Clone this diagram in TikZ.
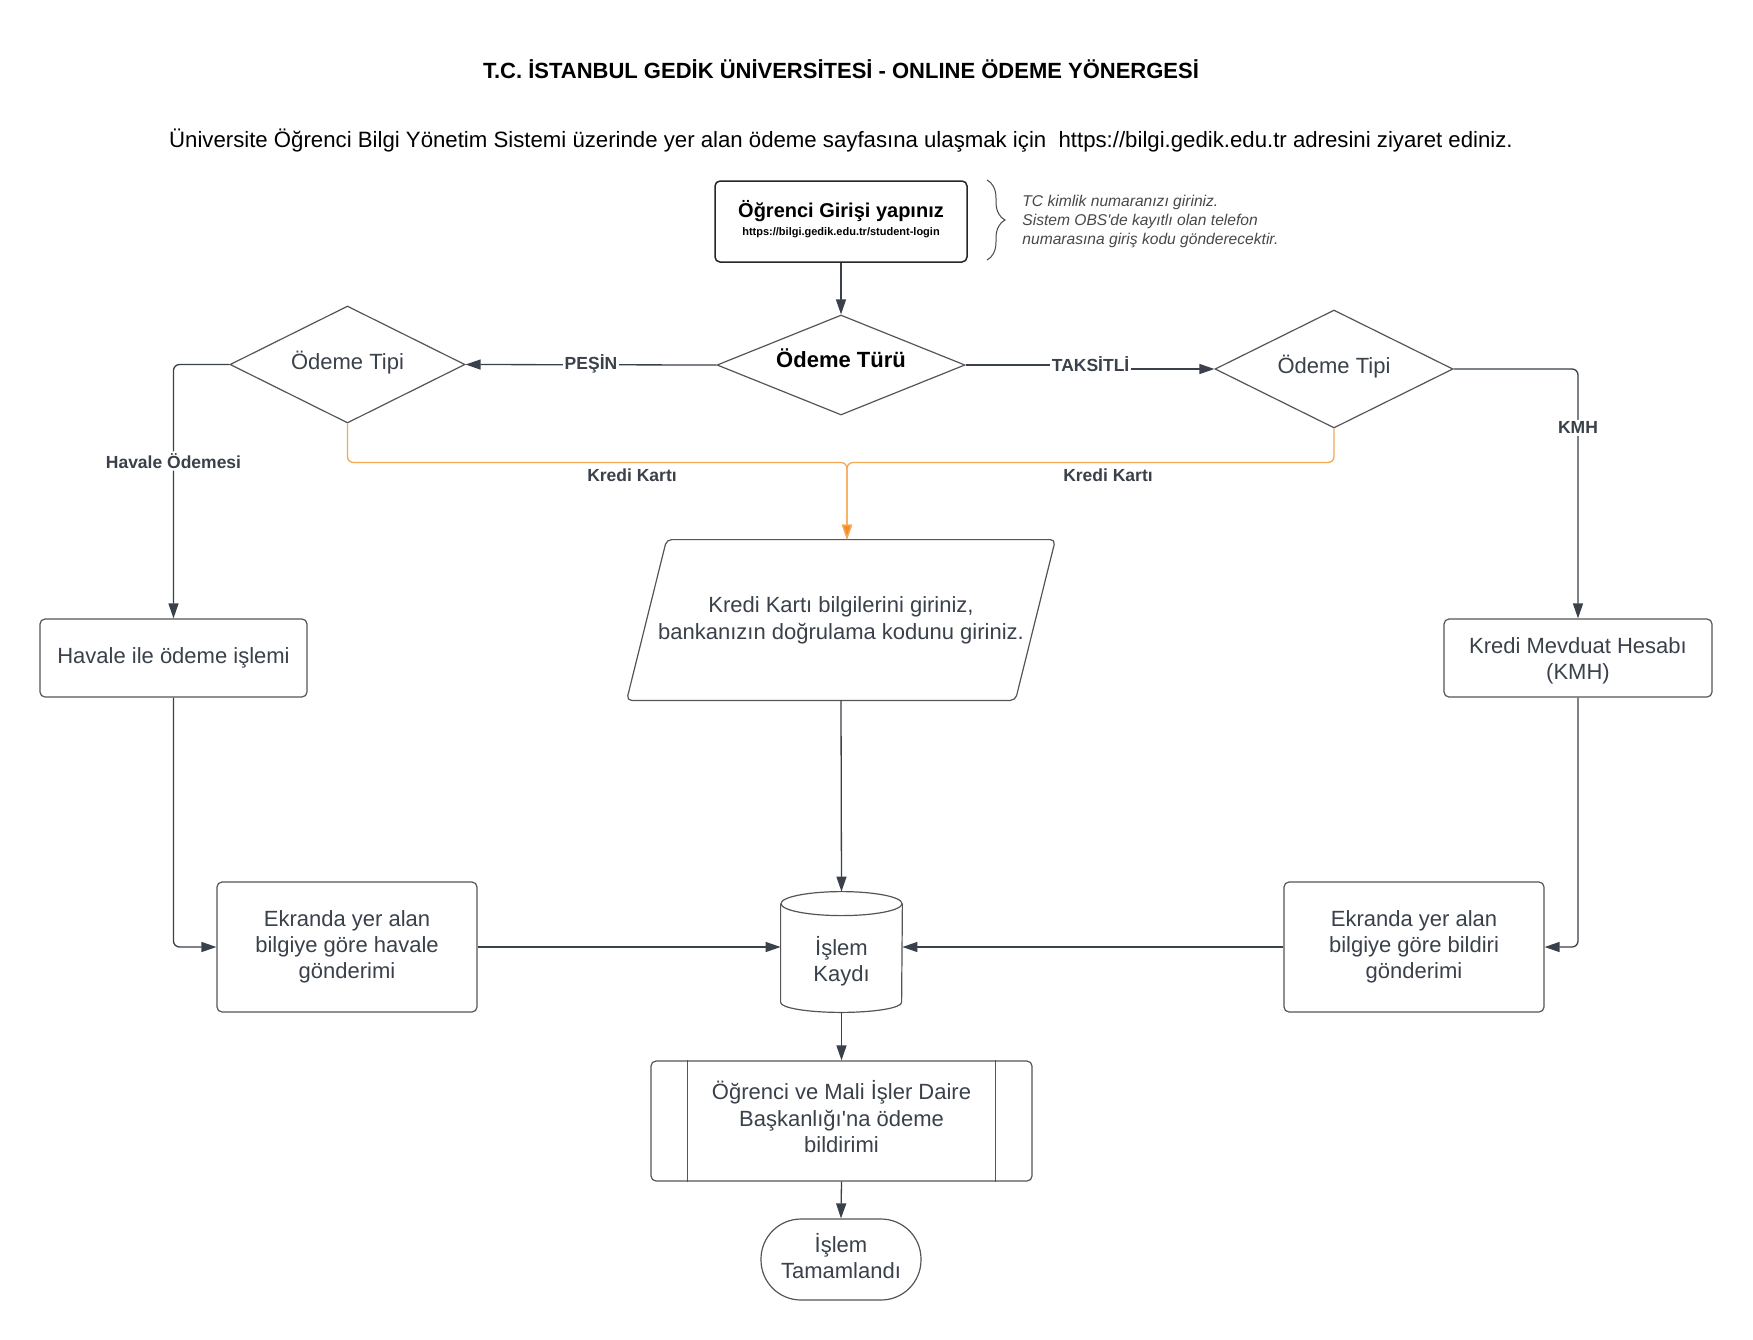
\documentclass[tikz,border=0pt]{standalone}
\usepackage{fontspec}
\setmainfont{Liberation Sans}
\usetikzlibrary{shapes.geometric,arrows.meta,calc,decorations.pathreplacing}
\definecolor{lc}{RGB}{58,65,74}
\definecolor{bc}{RGB}{85,85,85}
\definecolor{tc}{RGB}{58,65,74}
\definecolor{oc}{RGB}{245,168,84}
\definecolor{ot}{RGB}{242,140,40}
\definecolor{nc}{RGB}{72,72,72}
\begin{document}
\begin{tikzpicture}[x=0.5pt,y=-0.5pt,
  box/.style={draw=bc, line width=0.6pt, rounded corners=2.5pt, fill=white, text=tc, align=center, font=\fontsize{11}{13.1}\selectfont, inner sep=0pt},
  txt/.style={text=tc, align=center, font=\fontsize{11}{13.1}\selectfont, inner sep=0pt},
  dia/.style={draw=bc, line width=0.6pt, diamond, inner sep=0pt, text=tc, font=\fontsize{11}{13}\selectfont},
  conn/.style={draw=lc, line width=0.65pt, -{Triangle[length=7.5pt,width=5pt]}},
  lbl/.style={font=\fontsize{8.75}{10}\selectfont\bfseries, text=tc, fill=white, inner sep=1pt},
  oconn/.style={draw=oc, line width=0.65pt, rounded corners=3pt, -{Triangle[length=7.5pt,width=5pt,fill=ot]}}
]
\useasboundingbox (0,0) rectangle (1753,1340);
\fill[white] (0,0) rectangle (1753,1340);

\node[font=\fontsize{11}{13}\selectfont\bfseries] (title) at (841,69) {T.C. İSTANBUL GEDİK ÜNİVERSİTESİ - ONLINE ÖDEME YÖNERGESİ};
\node[font=\fontsize{11.1}{13}\selectfont] (intro) at (841,141) {Üniversite Öğrenci Bilgi Yönetim Sistemi üzerinde yer alan ödeme sayfasına ulaşmak için\ \ https://bilgi.gedik.edu.tr adresini ziyaret ediniz.};

% login
\node[box, draw=black!85, line width=0.75pt, minimum width=126pt, minimum height=40.5pt] (login) at (841,221.5) {};
\node[font=\fontsize{10}{12}\selectfont\bfseries, text=black, inner sep=0pt] (logint) at (841,211) {Öğrenci Girişi yapınız};
\node[font=\fontsize{5.5}{7}\selectfont\bfseries, text=black, inner sep=0pt] (loginu) at (841,233) {https://bilgi.gedik.edu.tr/student-login};

% note with brace
\draw[nc, line width=0.5pt, decorate, decoration={brace, amplitude=9pt}] (987,180) -- (987,260);
\node[anchor=west, align=left, font=\fontsize{7.8}{9.5}\selectfont\itshape, text=nc, inner sep=0pt] (note) at (1022,221) {TC kimlik numaranızı giriniz.\\Sistem OBS\textquotesingle de kayıtlı olan telefon\\numarasına giriş kodu gönderecektir.};

% diamonds
\node[dia, aspect=2.48, minimum width=124pt, minimum height=50pt, text=black, font=\fontsize{11}{13}\selectfont\bfseries] (odt) at (841,365) {\raisebox{3.3pt}[\height][\depth]{Ödeme Türü}};
\node[dia, aspect=2, minimum width=117.5pt, minimum height=58.5pt] (lt) at (347.5,364.5) {\raisebox{1.1pt}[\height][\depth]{Ödeme Tipi}};
\node[dia, aspect=2, minimum width=119pt, minimum height=59pt] (rt) at (1334,369) {\raisebox{1.1pt}[\height][\depth]{Ödeme Tipi}};

% boxes
\node[box, minimum width=133.5pt, minimum height=39pt] (hav) at (173.5,658) {Havale ile ödeme işlemi};
\node[box, minimum width=134pt, minimum height=39pt,
  label={[txt, yshift=-1.4pt]center:Kredi Mevduat Hesabı\\(KMH)}] (kmh) at (1578,658) {};

% parallelogram
\node[draw=none, minimum width=214pt, minimum height=80pt, text=tc, align=center, font=\fontsize{11}{13.4}\selectfont, inner sep=0pt] (kk) at (841,620) {Kredi Kartı bilgilerini giriniz,\\bankanızın doğrulama kodunu giriniz.};
\draw[bc, line width=0.6pt, rounded corners=2.5pt] ($(kk.north west)+(40,0)$) -- (kk.north east) -- ($(kk.south east)+(-40,0)$) -- (kk.south west) -- cycle;

\node[box, minimum width=130pt, minimum height=65pt] (ekl) at (347,947) {Ekranda yer alan\\bilgiye göre havale\\gönderimi};
\node[box, minimum width=130pt, minimum height=65pt] (ekr) at (1414,947) {Ekranda yer alan\\bilgiye göre bildiri\\gönderimi};

% cylinder
\node[draw=none, minimum width=60.5pt, minimum height=60pt, inner sep=0pt,
  label={[txt, yshift=-4.5pt]center:İşlem\\Kaydı}] (cyl) at (841.5,952) {};
\draw[bc, line width=0.6pt] ($(cyl.north west)+(0,12)$) -- ($(cyl.south west)+(0,-10)$) arc[start angle=180, end angle=360, x radius=30.25pt, y radius=5pt] -- ($(cyl.north east)+(0,12)$);
\draw[bc, line width=0.6pt] ($(cyl.north)+(0,12)$) ellipse[x radius=30.25pt, y radius=6pt];

% subroutine
\node[box, minimum width=190.5pt, minimum height=60pt,
  label={[txt, yshift=2.2pt]center:Öğrenci ve Mali İşler Daire\\Başkanlığı\textquotesingle na ödeme\\bildirimi}] (sub) at (841.5,1121) {};
\draw[bc, line width=0.6pt] ($(sub.north west)+(37,0)$) -- ($(sub.south west)+(37,0)$);
\draw[bc, line width=0.6pt] ($(sub.north east)+(-37,0)$) -- ($(sub.south east)+(-37,0)$);

% terminal
\node[box, rounded corners=20pt, minimum width=80pt, minimum height=40.5pt,
  label={[txt, yshift=1.7pt]center:İşlem\\Tamamlandı}] (term) at (841,1259.5) {};

% connectors
\draw[conn] (login.south) -- (odt.north);
\draw[conn] (odt.west) -- node[lbl, yshift=0.5pt]{PEŞİN} (lt.east);
\draw[conn] (odt.east) -- ++(125,0) |- node[lbl, pos=0.25, yshift=1.7pt]{TAKSİTLİ} (rt.west);
\draw[conn, rounded corners=3pt] (lt.west) -| node[lbl, pos=0.69]{Havale Ödemesi} (hav.north);
\draw[conn, rounded corners=3pt] (rt.east) -| node[lbl, pos=0.618]{KMH} (kmh.north);

\coordinate (jn) at (847,462.5);
\draw[oconn] (lt.south) |- (jn) -- (jn |- kk.north);
\draw[oconn] (rt.south) |- (jn) -- (jn |- kk.north);
\node[lbl, fill=none] (kl) at (632,475) {Kredi Kartı};
\node[lbl, fill=none] (kr) at (1108,475) {Kredi Kartı};

\draw[conn] (kk.south) -- (cyl.north);
\draw[conn, rounded corners=3pt] (hav.south) |- (ekl.west);
\draw[conn] (ekl.east) -- (ekl.east -| cyl.west);
\draw[conn] (ekr.west) -- (ekr.west -| cyl.east);
\draw[conn, rounded corners=3pt] (kmh.south) |- (ekr.east);
\draw[conn] (cyl.south) -- (sub.north);
\draw[conn] (sub.south) -- (term.north);
\end{tikzpicture}
\end{document}
